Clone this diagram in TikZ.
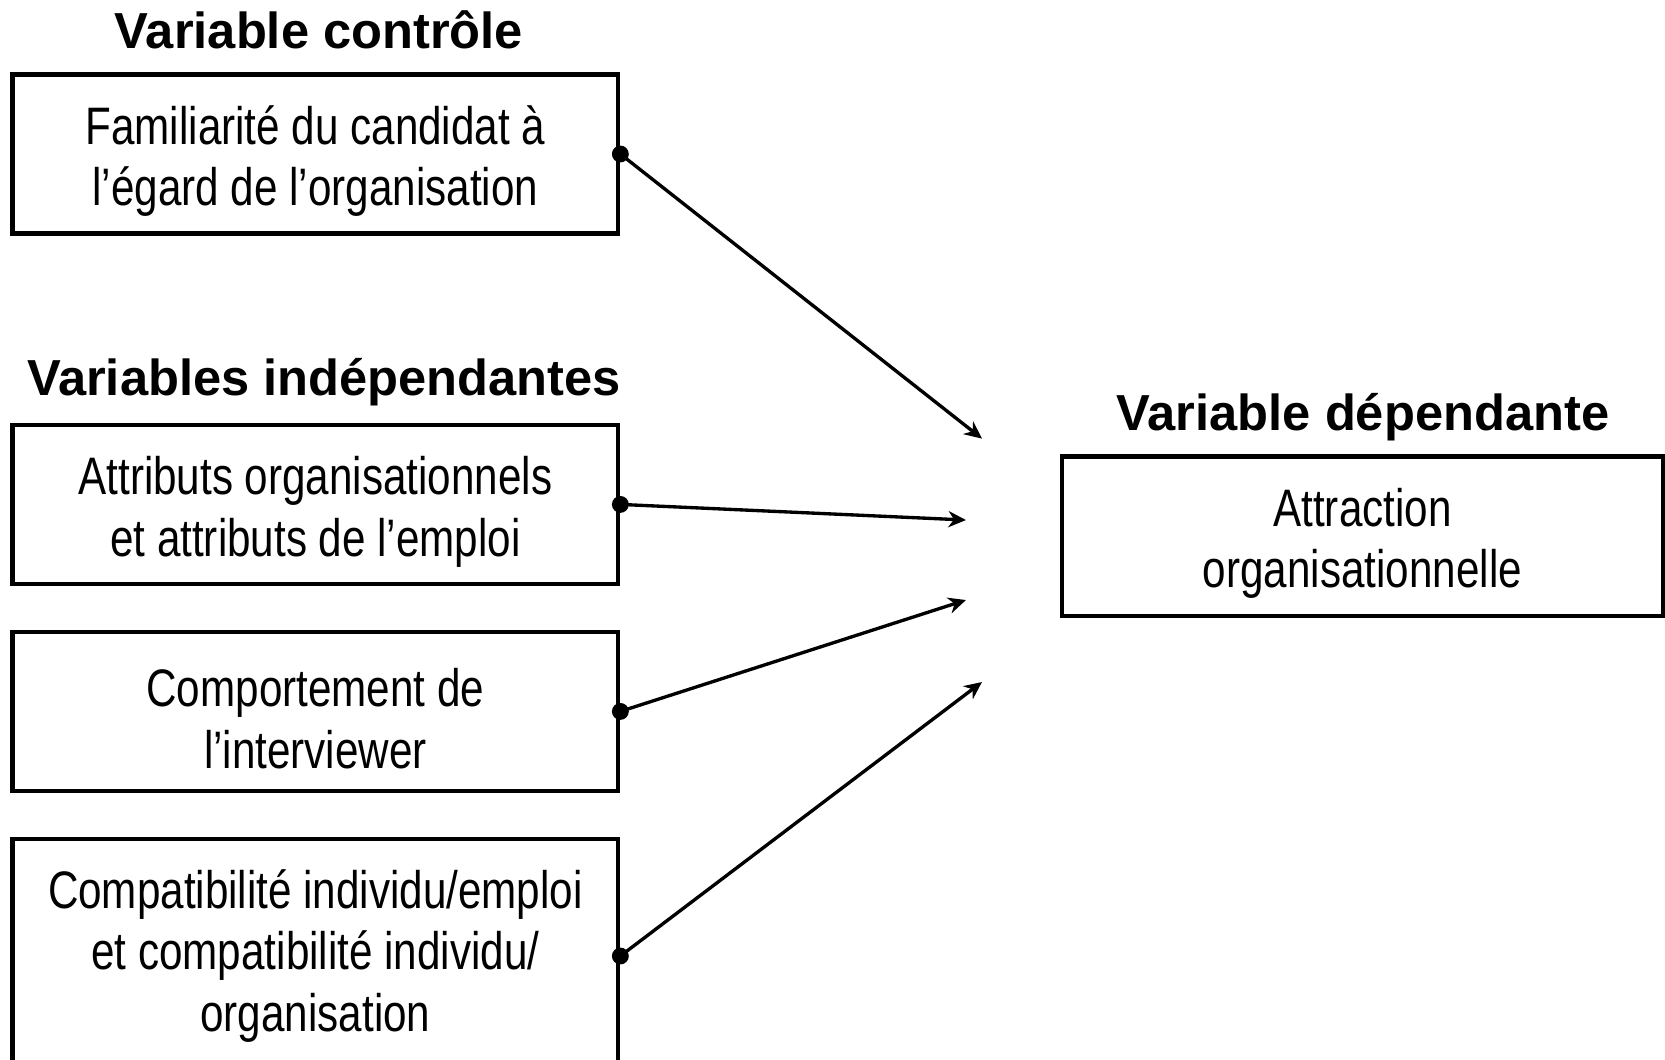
\documentclass[tikz,border=0pt]{standalone}
\usepackage{fontspec}
\setmainfont{Liberation Sans}
\newfontfamily\narrowfont[FakeStretch=0.8]{Liberation Sans}
\usetikzlibrary{arrows.meta}

\begin{document}
\begin{tikzpicture}[x=0.01cm,y=-0.01cm,
  titre/.style={anchor=base,font=\fontsize{14.4}{17}\selectfont\bfseries},
  boite/.style={draw,line width=1.3pt,align=center,minimum width=6.05cm,
    minimum height=1.59cm,inner sep=0pt,
    font=\narrowfont\fontsize{15}{17.5}\selectfont,
    execute at begin node={\rule{0pt}{32.5pt}}},
  fleche/.style={-{Stealth[length=5pt,width=4.6pt,inset=1.6pt]},line width=0.95pt},
  point/.style={fill=black}]
\useasboundingbox (0,0) rectangle (1665,1059);

\node (tctrl) at (319,48)  [titre] {Variable contrôle};
\node (tind)  at (324,395) [titre] {Variables indépendantes};
\node (tdep)  at (1363,430) [titre] {Variable dépendante};

\node (famil)   at (315.4,154)   [boite] {Familiarité du candidat à\\l’égard de l’organisation};
\node (attrib)  at (315.4,504.4) [boite] {Attributs organisationnels\\et attributs de l’emploi};
\node (comport) at (315.4,711.4) [boite] {Comportement de\\l’interviewer};
\node (compat)  at (315.4,956)   [boite,minimum height=2.34cm] {Compatibilité individu/emploi\\et compatibilité individu/\\organisation};
\node (attract) at (1362.5,536.3) [boite,minimum width=6.01cm] {Attraction\\organisationnelle};

\coordinate (b1) at (982,438.6);
\coordinate (b2) at (966,520);
\coordinate (b3) at (966,600);
\coordinate (b4) at (982,682);

\draw [fleche] (famil.east)   -- (b1);
\draw [fleche] (attrib.east)  -- (b2);
\draw [fleche] (comport.east) -- (b3);
\draw [fleche] (compat.east)  -- (b4);

\fill [point] (famil.east)   circle (2.4pt);
\fill [point] (attrib.east)  circle (2.4pt);
\fill [point] (comport.east) circle (2.4pt);
\fill [point] (compat.east)  circle (2.4pt);
\end{tikzpicture}
\end{document}
